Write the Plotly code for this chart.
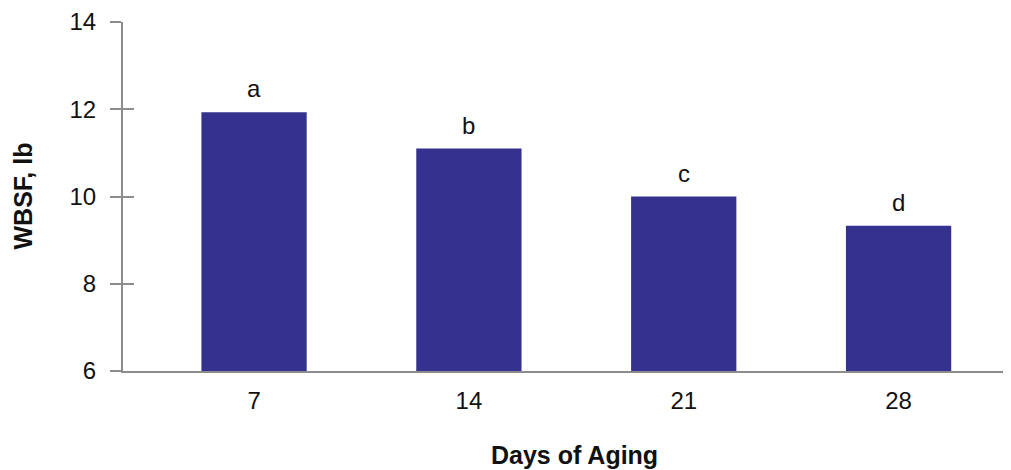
import plotly.graph_objects as go

days = ["7", "14", "21", "28"]
wbsf = [11.93, 11.10, 10.00, 9.33]
letters = ["a", "b", "c", "d"]
y_ticks = [6, 8, 10, 12, 14]

bar_color = "#34318f"
axis_color = "#8c8c8c"
font_family = "Liberation Sans, Arial, sans-serif"

fig = go.Figure()
fig.add_trace(go.Bar(
    x=days, y=wbsf,
    marker=dict(color=bar_color, line=dict(width=0)),
    width=0.49, hoverinfo="skip",
))
# invisible trace for inside ticks
fig.add_trace(go.Scatter(x=days, y=wbsf, yaxis="y2", mode="markers",
                         marker=dict(opacity=0), showlegend=False, hoverinfo="skip"))

for i, (v, t) in enumerate(zip(wbsf, letters)):
    fig.add_annotation(x=i, y=v, xref="x", yref="y", text=t, showarrow=False,
                       yanchor="bottom", yshift=8,
                       font=dict(size=24, color="#111111", family=font_family))

fig.add_annotation(x=0.5, y=0, xref="paper", yref="paper", text="<b>Days of Aging</b>",
                   showarrow=False, yanchor="middle", yshift=-84, xshift=10,
                   font=dict(size=25, color="#111111", family=font_family))
fig.add_annotation(x=0, y=0.5, xref="paper", yref="paper", text="<b>WBSF, lb</b>",
                   showarrow=False, textangle=-90, xanchor="center", xshift=-101,
                   font=dict(size=25, color="#111111", family=font_family))

fig.update_layout(
    width=1003, height=462,
    margin=dict(l=115, r=5, t=14, b=99),
    plot_bgcolor="white", paper_bgcolor="white",
    showlegend=False,
    font=dict(family=font_family, size=24, color="#111111"),
    xaxis=dict(
        type="category", range=[-0.61, 3.5], automargin=False,
        showline=True, linecolor=axis_color, linewidth=2,
        ticks="", showgrid=False, zeroline=False,
        tickfont=dict(size=24), ticklabelstandoff=7,
    ),
    yaxis=dict(
        range=[6, 14], tickvals=y_ticks, automargin=False,
        showline=True, linecolor=axis_color, linewidth=2,
        ticks="outside", ticklen=11, tickwidth=2, tickcolor=axis_color,
        showgrid=False, zeroline=False,
        tickfont=dict(size=24), ticklabelstandoff=9,
    ),
    yaxis2=dict(
        overlaying="y", side="left", range=[6, 14], tickvals=y_ticks, automargin=False,
        ticks="inside", ticklen=11, tickwidth=2, tickcolor=axis_color,
        showticklabels=False, showline=False, showgrid=False, zeroline=False,
    ),
)

fig.write_html("out.html")
